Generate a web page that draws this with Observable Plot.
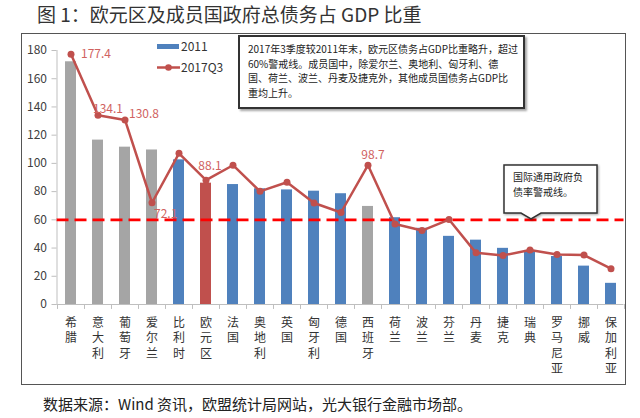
<!DOCTYPE html>
<html><head><meta charset="utf-8">
<script src="https://cdn.jsdelivr.net/npm/d3@7"></script>
<script src="https://cdn.jsdelivr.net/npm/@observablehq/plot@0.6"></script>
<style>
body{margin:0;width:640px;height:418px;position:relative;background:#fff;font-family:"Noto Sans CJK SC","Noto Sans",sans-serif;overflow:hidden;color:#222}
#title{position:absolute;left:37px;top:0px;font-size:19px;line-height:28px;color:#333;white-space:nowrap}
#frame{position:absolute;left:21px;top:33px;width:605px;height:352px;box-sizing:border-box;border:1.5px solid #555}
#chart{position:absolute;left:0;top:33px}
.leg{position:absolute;font-size:12px;line-height:14px;color:#333;white-space:nowrap}
#note{position:absolute;left:238px;top:35px;width:287px;height:74px;box-sizing:border-box;border:2px solid #333;background:#fff;box-shadow:2px 2px 2px rgba(0,0,0,.35);padding:5px 0 0 8px;font-size:10px;line-height:14.5px;color:#222;white-space:nowrap}
#callout{position:absolute;left:0;top:0;overflow:visible}
.ct{position:absolute;font-size:10px;line-height:15px;color:#222;white-space:nowrap}
#caption{position:absolute;left:43px;top:394px;font-size:15px;line-height:20px;color:#222;white-space:nowrap}
</style></head><body>
<div id="title">图 1：欧元区及成员国政府总债务占 GDP 比重</div>
<div id="frame"></div>
<div id="chart"></div>
<div id="legend"></div>
<div id="note"></div>
<svg id="callout" width="640" height="418"></svg>
<div id="callText"></div>
<div id="caption">数据来源：Wind 资讯，欧盟统计局网站，光大银行金融市场部。</div>
<script>
// ---- data ----
const countries = ["希腊","意大利","葡萄牙","爱尔兰","比利时","欧元区","法国","奥地利","英国","匈牙利","德国","西班牙","荷兰","波兰","芬兰","丹麦","捷克","瑞典","罗马尼亚","挪威","保加利亚"];
const values2011 = [172, 116.5, 111.5, 109.5, 102.5, 86, 85, 82, 81.2, 80.3, 78.5, 69.5, 61.5, 54, 48.3, 45.6, 39.8, 38.3, 34, 27.2, 15];
const values2017Q3 = [177.4, 134.1, 130.8, 72.1, 107.1, 88.1, 98.7, 80.2, 86.6, 71.9, 65.2, 98.7, 57, 52.4, 60.2, 36.6, 34.8, 38.6, 35.4, 35, 25.4];
const grayCountries = ["希腊","意大利","葡萄牙","爱尔兰","西班牙"];
const redCountries = ["欧元区"];
const labeledCountries = ["希腊","意大利","葡萄牙","爱尔兰","欧元区","西班牙"];
const yTicks = [0,20,40,60,80,100,120,140,160,180];
const warningLevel = [60];
const seriesNames = ["2011","2017Q3"];
const noteLines = ["2017年3季度较2011年末，欧元区债务占GDP比重略升，超过","60%警戒线。成员国中，除爱尔兰、奥地利、匈牙利、德","国、荷兰、波兰、丹麦及捷克外，其他成员国债务占GDP比","重均上升。"];
const calloutLines = ["国际通用政府负","债率警戒线。"];

// ---- build table ----
const rows = countries.map((c,i) => ({
  country: c, v2011: values2011[i], v2017: values2017Q3[i],
  group: grayCountries.includes(c) ? "gray" : redCountries.includes(c) ? "red" : "blue"
}));

const W = 640, H = 352, ML = 56.5, MR = 16.5, MT = 17, MB = 81;
const step = (W - ML - MR) / countries.length;
const colors = {gray:"#A5A5A5", blue:"#4F81BD", red:"#C0504D"};
const lineColor = "#C0504D", labelColor = "#D0625F";
const labelOffsets = {"希腊":[10,0,"start"],"意大利":[-5,-6,"start"],"葡萄牙":[4,-6,"start"],"爱尔兰":[2,11,"start"],"欧元区":[4,-14,"middle"],"西班牙":[5,-10,"middle"]};

const marks = [
  ...["gray","blue","red"].map(g => Plot.barY(rows.filter(d => d.group === g), {x:"country", y:"v2011", fill: colors[g]})),
  Plot.ruleY([0], {stroke:"#bfbfbf"}),
  Plot.frame({anchor:"left", stroke:"#bfbfbf"}),
  Plot.ruleX(countries, {x: d => d, y1: 0, y2: -3.5, dx: -step/2, stroke:"#bfbfbf"}),
  Plot.ruleX(countries.slice(-1), {x: d => d, y1: 0, y2: -3.5, dx: step/2, stroke:"#bfbfbf"}),
  Plot.ruleY(warningLevel, {stroke:"#FF0000", strokeWidth:2.6, strokeDasharray:"12,6"}),
  Plot.line(rows, {x:"country", y:"v2017", stroke: lineColor, strokeWidth:2.5}),
  Plot.dot(rows, {x:"country", y:"v2017", fill: lineColor, r:3.5}),
  ...labeledCountries.map(c => {
    const [dx, dy, anchor] = labelOffsets[c];
    return Plot.text(rows.filter(d => d.country === c), {x:"country", y:"v2017", text: d => d.v2017.toFixed(1), dx, dy, textAnchor: anchor, fill: labelColor, fontSize: 12});
  }),
  Plot.axisY({ticks: yTicks, tickSize:5, tickPadding:5, fontSize:12, stroke:"#bfbfbf", fill:"#404040", label:null}),
  Plot.axisX({tickSize:0, tickPadding:11, tickFormat: d => [...d].join("\n"), lineHeight:1.3, fontSize:12, fill:"#333", label:null})
];

const chart = Plot.plot({
  width: W, height: H, marginLeft: ML, marginRight: MR, marginTop: MT, marginBottom: MB,
  style: {fontFamily:"Noto Sans CJK SC, Noto Sans, sans-serif", fontSize:"12px", background:"transparent", color:"#404040", overflow:"visible"},
  x: {type:"band", domain: countries, paddingInner: 0.6, paddingOuter: 0.3, align: 0.5},
  y: {domain:[0,180]},
  marks
});
document.getElementById("chart").appendChild(chart);

// ---- legend ----
const leg = document.getElementById("legend");
leg.innerHTML =
  `<div style="position:absolute;left:157px;top:43.5px;width:22px;height:5px;background:${colors.blue}"></div>` +
  `<div class="leg" style="left:181px;top:39px">${seriesNames[0]}</div>` +
  `<svg style="position:absolute;left:157px;top:62.5px" width="24" height="9"><line x1="0" y1="4.5" x2="23" y2="4.5" stroke="${lineColor}" stroke-width="2.5"/><circle cx="11.5" cy="4.5" r="3.3" fill="${lineColor}"/></svg>` +
  `<div class="leg" style="left:181px;top:60px">${seriesNames[1]}</div>`;

// ---- note box ----
document.getElementById("note").innerHTML = noteLines.join("<br>");

// ---- callout ----
const co = d3.select("#callout");
co.append("path")
  .attr("d", "M504,165 H597 V213 H541 L531,219 L521,213 H504 Z")
  .attr("fill", "#fff").attr("stroke", "#333").attr("stroke-width", 1.5)
  .style("filter", "drop-shadow(1.5px 1.5px 1px rgba(0,0,0,0.35))");
document.getElementById("callText").innerHTML = calloutLines.map((t,i) =>
  `<div class="ct" style="left:513px;top:${169 + i*15}px">${t}</div>`).join("");
</script>
</body></html>
